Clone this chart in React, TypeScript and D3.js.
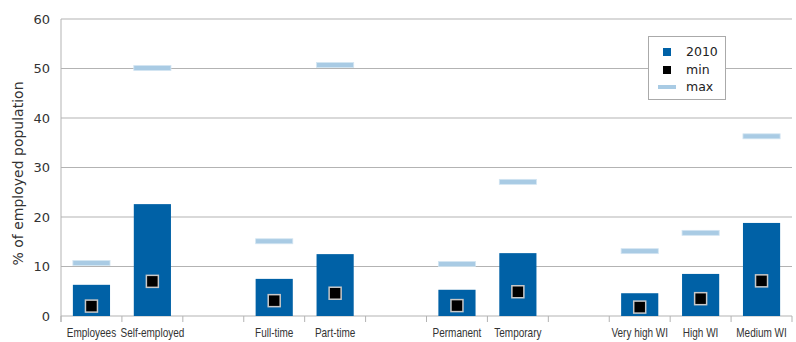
import React from "react";
import * as d3 from "d3";

const categories = ["Employees", "Self-employed", "", "Full-time", "Part-time", "", "Permanent", "Temporary", "", "Very high WI", "High WI", "Medium WI"];
const values2010: (number | null)[] = [6.3, 22.6, null, 7.5, 12.5, null, 5.3, 12.7, null, 4.6, 8.5, 18.8];
const minValues: (number | null)[] = [2.0, 7.0, null, 3.1, 4.6, null, 2.1, 4.9, null, 1.8, 3.5, 7.1];
const maxValues: (number | null)[] = [10.7, 50.1, null, 15.1, 50.7, null, 10.5, 27.1, null, 13.1, 16.8, 36.3];
const yTicks = [0, 10, 20, 30, 40, 50, 60];
const legendLabels = ["2010", "min", "max"];

const W = 796, H = 342;
const left = 61, right = 792, top = 19, bottom = 316;
const BAR = "#0061a6";
const MAXC = "#a9cbe4";
const GRID = "#b3b3b3";

export default function App() {
  const idx = categories.map((_, i) => String(i));
  const x = d3.scaleBand<string>().domain(idx).range([left, right]).paddingInner(0.39).paddingOuter(0.195);
  const y = d3.scaleLinear().domain([0, 60]).range([bottom, top]);
  const step = x.step();
  const bw = x.bandwidth();
  const sq = 12;

  return (
    <svg width={W} height={H} style={{ position: "absolute", left: 0, top: 0, background: "#fff" }}>
      {yTicks.map((t) => (
        <line key={"g" + t} x1={left} x2={right} y1={y(t)} y2={y(t)} stroke={GRID} strokeWidth={1} />
      ))}
      <line x1={left} x2={left} y1={top} y2={bottom + 6} stroke={GRID} strokeWidth={1} />
      {d3.range(categories.length + 1).map((i) => (
        <line key={"t" + i} x1={left + i * step} x2={left + i * step} y1={bottom} y2={bottom + 6} stroke={GRID} strokeWidth={1} />
      ))}
      {yTicks.map((t) => (
        <text key={"yl" + t} x={50} y={y(t)} dy="0.35em" textAnchor="end" fontFamily="DejaVu Sans" fontSize={13} fill="#333">
          {t}
        </text>
      ))}
      <text transform={`translate(23,${(top + bottom) / 2 + 6}) rotate(-90)`} textAnchor="middle" fontFamily="DejaVu Sans" fontSize={14} fill="#333">
        % of employed population
      </text>
      {values2010.map((v, i) =>
        v == null ? null : (
          <rect key={"b" + i} x={x(String(i))!} y={y(v)} width={bw} height={y(0) - y(v)} fill={BAR} />
        )
      )}
      {maxValues.map((v, i) =>
        v == null ? null : (
          <rect key={"mx" + i} x={x(String(i))!} y={y(v) - 2.5} width={bw} height={5} fill={MAXC} stroke="#d3e5f2" strokeWidth={0.8} />
        )
      )}
      {minValues.map((v, i) =>
        v == null ? null : (
          <rect key={"mn" + i} x={x(String(i))! + bw / 2 - sq / 2} y={y(v) - sq / 2} width={sq} height={sq} fill="#000" stroke="#c8c8c8" strokeWidth={1.5} />
        )
      )}
      {categories.map((c, i) =>
        c ? (
          <text key={"xl" + i} transform={`translate(${x(String(i))! + bw / 2},337) scale(0.8,1)`} textAnchor="middle" fontFamily="Liberation Sans, Arial, sans-serif" fontSize={12.5} fill="#333">
            {c}
          </text>
        ) : null
      )}
      <rect x={648.5} y={36.5} width={77} height={63} fill="#fff" stroke="#aaa" strokeWidth={1} />
      <rect x={663} y={48} width={8} height={8} fill={BAR} />
      <rect x={663} y={66} width={8} height={8} fill="#000" />
      <rect x={658} y={85} width={18} height={4} fill={MAXC} />
      {legendLabels.map((l, i) => (
        <text key={"lg" + i} x={686} y={52 + i * 17.5} dy="0.35em" fontFamily="DejaVu Sans" fontSize={12.5} fill="#222">
          {l}
        </text>
      ))}
    </svg>
  );
}
